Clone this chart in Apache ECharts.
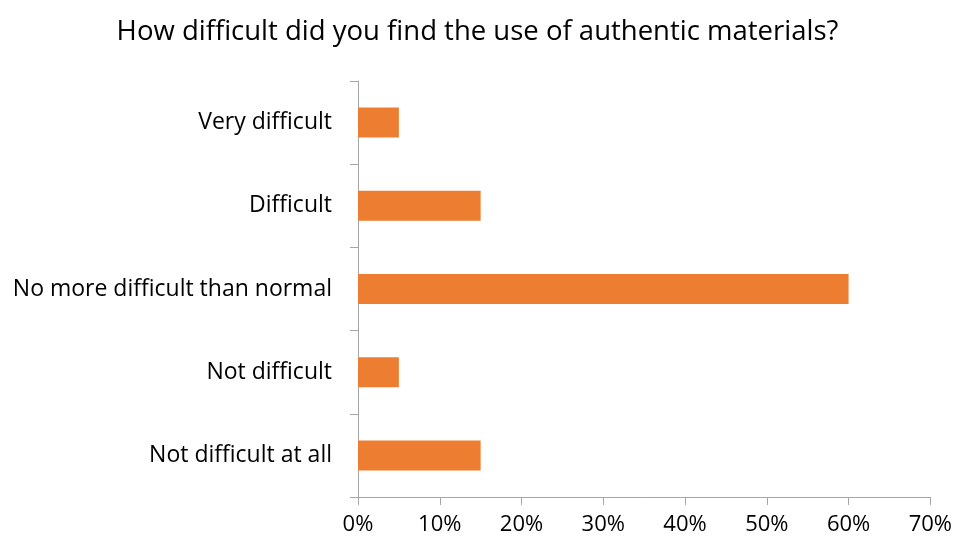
<!DOCTYPE html>
<html><head><meta charset="utf-8">
<script src="https://cdn.jsdelivr.net/npm/echarts@6/dist/echarts.min.js"></script>
<style>html,body{margin:0;padding:0;background:#fff}#c{width:955px;height:541px}</style>
</head><body><div id="c"></div>
<script>
const titleText = "How difficult did you find the use of authentic materials?";
const categories = ["Very difficult","Difficult","No more difficult than normal","Not difficult","Not difficult at all"];
const values = [5,15,60,5,15];
const xTicks = [0,10,20,30,40,50,60,70];

const chart = echarts.init(document.getElementById('c'));
const font = '"Open Sans", sans-serif';
chart.setOption({
  animation:false,
  title:{text:titleText,left:'center',top:13,textStyle:{fontFamily:font,fontSize:27.5,fontWeight:'normal',color:'#000'}},
  grid:{left:358,right:24,top:81,bottom:44,containLabel:false},
  xAxis:{type:'value',min:xTicks[0],max:xTicks[xTicks.length-1],interval:10,
    axisLine:{show:true,lineStyle:{color:'#a6a6a6',width:1}},
    axisTick:{show:true,length:8,lineStyle:{color:'#a6a6a6'}},
    splitLine:{show:false},
    axisLabel:{formatter:'{value}%',fontFamily:font,fontSize:22,color:'#000',margin:17}},
  yAxis:{type:'category',data:categories,inverse:true,
    axisLine:{show:true,lineStyle:{color:'#a6a6a6',width:1}},
    axisTick:{show:true,length:8,lineStyle:{color:'#a6a6a6'}},
    axisLabel:{fontFamily:font,fontSize:23,color:'#000',margin:26,padding:[4,0,0,0]}},
  series:[{type:'bar',data:values,barWidth:30,itemStyle:{color:'#ED7D31'}}]
});
</script></body></html>
